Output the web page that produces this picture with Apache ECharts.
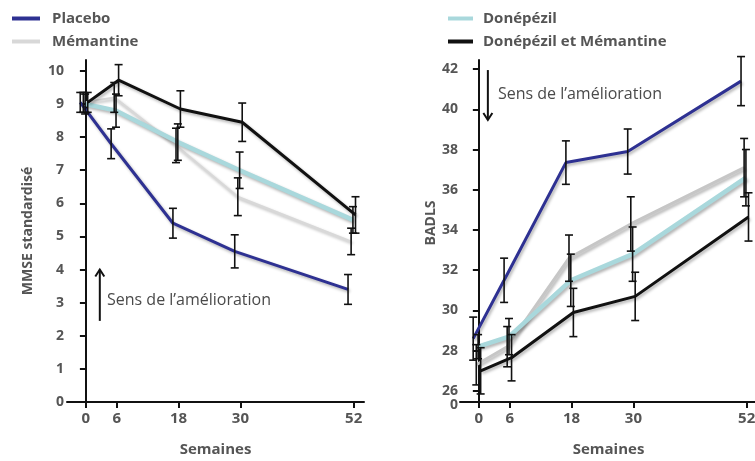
<!DOCTYPE html>
<html><head><meta charset="utf-8">
<script src="https://cdn.jsdelivr.net/npm/echarts@6/dist/echarts.min.js"></script>
<style>html,body{margin:0;padding:0;background:#fff}#c{width:755px;height:461px}</style>
</head><body><div id="c"></div>
<script>
// ---- data ----
const weeks = [0, 6, 18, 30, 52];
const weekTicks = [0, 6, 18, 30, 52];
const mmseTicks = [0, 1, 2, 3, 4, 5, 6, 7, 8, 9, 10];
const badlsTicks = [26, 28, 30, 32, 34, 36, 38, 40, 42];

const names = ['Placebo', 'Mémantine', 'Donépézil', 'Donépézil et Mémantine'];

const mmsePlacebo = [9.05, 7.8, 5.4, 4.55, 3.4];
const mmseMemantine = [9.05, 9.2, 7.75, 6.2, 4.85];
const mmseDonepezil = [9.0, 8.8, 7.85, 7.0, 5.5];
const mmseDonMem = [9.05, 9.72, 8.85, 8.45, 5.65];
const mmsePlaceboErr = [0.3, 0.45, 0.45, 0.5, 0.45];
const mmseMemantineErr = [0.3, 0.45, 0.52, 0.57, 0.4];
const mmseDonepezilErr = [0.3, 0.5, 0.55, 0.55, 0.4];
const mmseDonMemErr = [0.3, 0.47, 0.55, 0.58, 0.55];

const badlsPlacebo = [28.6, 31.5, 37.35, 37.9, 41.4];
const badlsMemantine = [27.3, 28.2, 32.6, 34.3, 37.1];
const badlsDonepezil = [28.2, 28.7, 31.5, 32.8, 36.6];
const badlsDonMem = [27.0, 27.65, 29.9, 30.7, 34.65];
const badlsPlaceboErr = [1.07, 1.1, 1.08, 1.12, 1.22];
const badlsMemantineErr = [1.0, 1.0, 1.15, 1.35, 1.45];
const badlsDonepezilErr = [0.6, 0.9, 1.3, 1.35, 1.4];
const badlsDonMemErr = [1.15, 1.15, 1.2, 1.2, 1.2];

// ---- styling ----
const FONT = 'Open Sans';
const TXT = '#555';
const colors = ['#2e3192', '#d8d8d8', '#a9d8dc', '#111111'];
const widths = [3, 2, 4.5, 3];
const dodge = [-1.1, -0.5, -0.15, 0.35];
const colorsRight = ['#2e3192', '#c6c6c6', '#a9d8dc', '#111111'];
const widthsRight = [3, 3, 4.5, 3];

function pts(vals, off) { return vals.map((v, i) => [weeks[i] + off, v]); }
function errs(vals, e, off) { return vals.map((v, i) => [weeks[i] + off, v - e[i], v + e[i]]); }

function errRender(params, api) {
  const x = api.value(0), lo = api.value(1), hi = api.value(2);
  const a = api.coord([x, lo]), b = api.coord([x, hi]);
  const cw = 4;
  const st = { stroke: '#111', lineWidth: 1.6 };
  return { type: 'group', children: [
    { type: 'line', shape: { x1: a[0], y1: a[1], x2: b[0], y2: b[1] }, style: st },
    { type: 'line', shape: { x1: a[0] - cw, y1: a[1], x2: a[0] + cw, y2: a[1] }, style: st },
    { type: 'line', shape: { x1: b[0] - cw, y1: b[1], x2: b[0] + cw, y2: b[1] }, style: st }
  ]};
}

const leftVals = [mmsePlacebo, mmseMemantine, mmseDonepezil, mmseDonMem];
const leftErrs = [mmsePlaceboErr, mmseMemantineErr, mmseDonepezilErr, mmseDonMemErr];
const rightVals = [badlsPlacebo, badlsMemantine, badlsDonepezil, badlsDonMem];
const rightErrs = [badlsPlaceboErr, badlsMemantineErr, badlsDonepezilErr, badlsDonMemErr];

const drawOrder = [1, 2, 0, 3];
const series = [];
function addLines(g, vals, cols, ws) {
  drawOrder.forEach(k => {
    series.push({
      type: 'line', name: names[k], xAxisIndex: g, yAxisIndex: g,
      data: pts(vals[k], dodge[k]), showSymbol: false, symbol: 'none', silent: true,
      color: cols[k], z: 2,
      lineStyle: { color: cols[k], width: ws[k], shadowColor: 'rgba(0,0,0,0.3)', shadowBlur: 3, shadowOffsetX: 1.5, shadowOffsetY: 2 }
    });
  });
}
function addErrs(g, vals, es) {
  [0, 1, 2, 3].forEach(k => {
    series.push({
      type: 'custom', xAxisIndex: g, yAxisIndex: g, renderItem: errRender, z: 5, silent: true,
      encode: { x: 0, y: [1, 2] }, data: errs(vals[k], es[k], dodge[k])
    });
  });
}
addLines(0, leftVals, colors, widths);
addLines(1, rightVals, colorsRight, widthsRight);
addErrs(0, leftVals, leftErrs);
addErrs(1, rightVals, rightErrs);

const yLbl = { color: TXT, fontFamily: FONT, fontSize: 14, fontWeight: 'bold' };
const xLbl = { color: TXT, fontFamily: FONT, fontSize: 15, fontWeight: 'bold' };
const axLine = { show: true, lineStyle: { color: '#111', width: 2 } };
const axTick = { show: true, length: 6, lineStyle: { color: '#111', width: 2 } };
const nameSt = { color: TXT, fontFamily: FONT, fontSize: 15, fontWeight: 'bold' };

function xAx(g, min, max) {
  return {
    type: 'value', gridIndex: g, min: min, max: max,
    axisLine: Object.assign({ onZero: false }, axLine),
    axisTick: Object.assign({ customValues: weekTicks }, axTick),
    axisLabel: Object.assign({ customValues: weekTicks, margin: 9 }, xLbl),
    splitLine: { show: false },
    name: 'Semaines', nameLocation: 'middle', nameGap: 40,
    nameTextStyle: nameSt
  };
}

const BADLS_MIN = 25.45;
const option = {
  animation: false,
  textStyle: { fontFamily: FONT },
  grid: [
    { left: 67, right: 391, top: 60, bottom: 59, containLabel: false, outerBoundsMode: 'none' },
    { left: 460, right: -2, top: 60, bottom: 59, containLabel: false, outerBoundsMode: 'none' }
  ],
  legend: [
    { data: [names[0], names[1]], orient: 'vertical', left: 7, top: 6, icon: 'rect', itemWidth: 28, itemHeight: 4, itemGap: 8,
      textStyle: { color: TXT, fontFamily: FONT, fontSize: 15, fontWeight: 'bold', padding: [0, 0, 0, 7] } },
    { data: [names[2], names[3]], orient: 'vertical', left: 443, top: 6, icon: 'rect', itemWidth: 25, itemHeight: 4, itemGap: 8,
      textStyle: { color: TXT, fontFamily: FONT, fontSize: 15, fontWeight: 'bold', padding: [0, 0, 0, 5] } }
  ],
  xAxis: [xAx(0, -3.67, 54), xAx(1, -3.66, 54)],
  yAxis: [
    { type: 'value', gridIndex: 0, min: 0, max: 10.33, interval: 1, offset: -6,
      axisLine: axLine, axisTick: axTick,
      axisLabel: Object.assign({ margin: 9 }, yLbl), splitLine: { show: false },
      name: 'MMSE standardisé', nameLocation: 'middle', nameGap: 38,
      nameTextStyle: { color: TXT, fontFamily: FONT, fontSize: 14, fontWeight: 'bold' } },
    { type: 'value', gridIndex: 1, min: BADLS_MIN, max: 42.45, offset: -7,
      axisLine: axLine,
      axisTick: Object.assign({ customValues: badlsTicks }, axTick),
      axisLabel: Object.assign({ customValues: badlsTicks, margin: 9 }, yLbl),
      splitLine: { show: false },
      name: 'BADLS', nameLocation: 'middle', nameGap: 16,
      nameTextStyle: { color: TXT, fontFamily: FONT, fontSize: 14, fontWeight: 'bold', padding: [0, 0, 0, 16] } }
  ],
  series: series
};

const chart = echarts.init(document.getElementById('c'), null, { renderer: 'canvas' });
chart.setOption(option);

// annotations anchored in data coordinates
function P(g, x, y) { return chart.convertToPixel({ gridIndex: g }, [x, y]); }
const annTxt = 'Sens de l’amélioration';
const aUp0 = P(0, 2.7, 2.45), aUp1 = P(0, 2.7, 4.0), tL = P(0, 4.1, 3.07);
const aDn0 = P(1, 1.75, 41.95), aDn1 = P(1, 1.75, 39.47), tR = P(1, 3.7, 40.76);
const zeroPos = P(1, -2.3, BADLS_MIN);
const arrowSt = { stroke: '#111', lineWidth: 2, fill: null };
const annFont = '16px "Open Sans"';
const gfx = [
  { type: 'line', shape: { x1: aUp0[0], y1: aUp0[1], x2: aUp1[0], y2: aUp1[1] }, style: arrowSt },
  { type: 'polyline', shape: { points: [[aUp1[0] - 4.5, aUp1[1] + 7], [aUp1[0], aUp1[1]], [aUp1[0] + 4.5, aUp1[1] + 7]] }, style: arrowSt },
  { type: 'text', x: tL[0], y: tL[1], style: { text: annTxt, fill: '#4a4a4a', font: annFont, textVerticalAlign: 'middle' } },
  { type: 'line', shape: { x1: aDn0[0], y1: aDn0[1], x2: aDn1[0], y2: aDn1[1] }, style: arrowSt },
  { type: 'polyline', shape: { points: [[aDn1[0] - 4.5, aDn1[1] - 7], [aDn1[0], aDn1[1]], [aDn1[0] + 4.5, aDn1[1] - 7]] }, style: arrowSt },
  { type: 'text', x: tR[0], y: tR[1], style: { text: annTxt, fill: '#4a4a4a', font: annFont, textVerticalAlign: 'middle' } },
  { type: 'text', x: zeroPos[0] - 9, y: zeroPos[1] + 3, style: { text: '0', fill: TXT, font: 'bold 14px "Open Sans"', textAlign: 'right', textVerticalAlign: 'middle' } }
];
chart.setOption({ graphic: gfx });
</script></body></html>
